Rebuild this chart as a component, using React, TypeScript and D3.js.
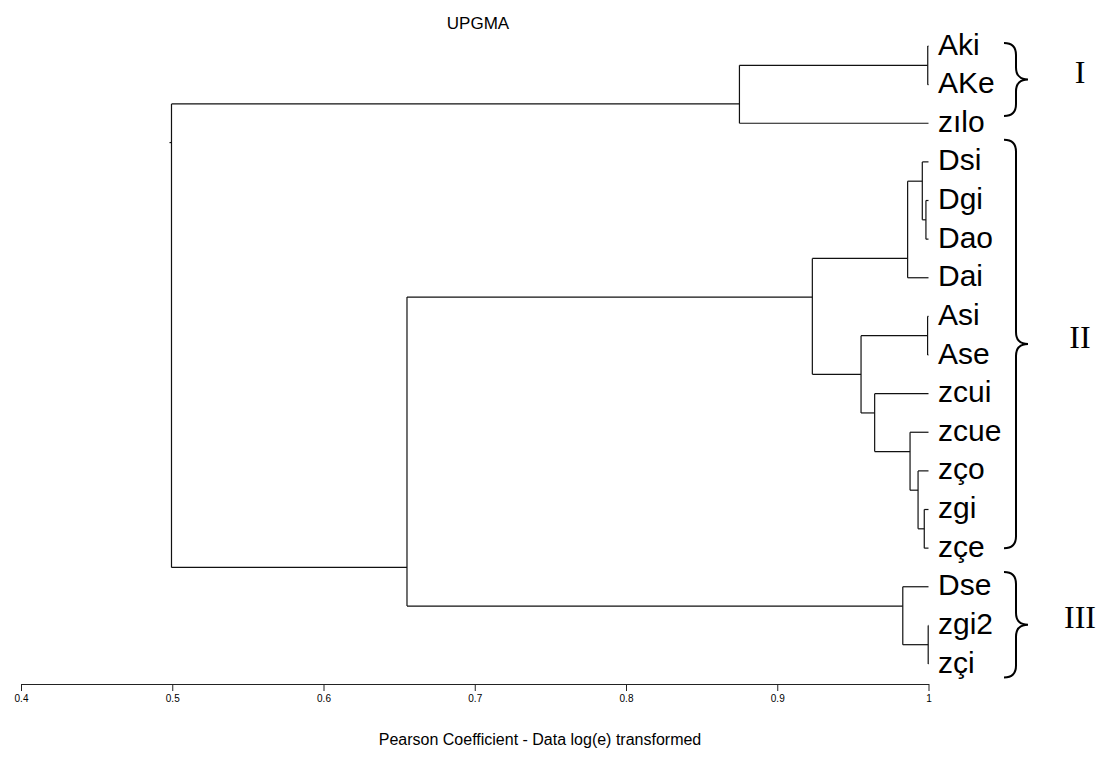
import React, { useEffect, useRef } from "react";
import * as d3 from "d3";

// leaves, top to bottom
const leafNames = ["Aki", "AKe", "zılo", "Dsi", "Dgi", "Dao", "Dai", "Asi", "Ase", "zcui", "zcue", "zço", "zgi", "zçe", "Dse", "zgi2", "zçi"];

// UPGMA merges in order: upper cluster, lower cluster, Pearson coefficient -> node "n<i>"
const mergeA = ["zgi2", "Aki", "Asi", "Dgi", "zgi", "Dsi", "zço", "zcue", "n5", "Dse", "zcui", "n2", "n8", "n1", "n12", "n13"];
const mergeB = ["zçi", "AKe", "Ase", "Dao", "zçe", "n3", "n4", "n6", "Dai", "n0", "n7", "n10", "n11", "zılo", "n9", "n14"];
const mergeLevel = [0.9998, 0.9995, 0.9994, 0.9983, 0.9972, 0.9959, 0.9931, 0.9878, 0.9862, 0.983, 0.9644, 0.9554, 0.9232, 0.875, 0.6552, 0.4995];

const axisTicks = [0.4, 0.5, 0.6, 0.7, 0.8, 0.9, 1];
const axisTickLabels = ["0.4", "0.5", "0.6", "0.7", "0.8", "0.9", "1"];

// bracketed groups (positions in leaf units)
const groupNames = ["I", "II", "III"];
const groupFrom = [-0.08, 2.43, 13.62];
const groupTo = [1.81, 13.0, 16.35];

const W = 1113;
const H = 778;

type Node = { y: number; min: number; max: number; level: number };

function brace(x: number, y0: number, y1: number) {
  const r = 12;
  const w = 24;
  const ym = (y0 + y1) / 2;
  const xv = x + r;
  return [
    `M${x},${y0}`,
    `Q${xv},${y0} ${xv},${y0 + r}`,
    `L${xv},${ym - r}`,
    `Q${xv},${ym} ${x + w},${ym}`,
    `Q${xv},${ym} ${xv},${ym + r}`,
    `L${xv},${y1 - r}`,
    `Q${xv},${y1} ${x},${y1}`,
  ].join(" ");
}

const App = () => {
  const axisRef = useRef<SVGGElement>(null);

  const x = d3.scaleLinear().domain([0.4, 1]).range([21, 928.5]);
  const y = d3.scaleLinear().domain([0, leafNames.length - 1]).range([46, 664]);

  // build the layout of the tree
  const nodes: Record<string, Node> = {};
  leafNames.forEach((n, i) => {
    nodes[n] = { y: i, min: i, max: i, level: 1 };
  });
  const segs: [number, number, number, number][] = [];
  mergeA.forEach((a, i) => {
    const A = nodes[a];
    const B = nodes[mergeB[i]];
    const lv = mergeLevel[i];
    nodes["n" + i] = { y: (A.max + B.min) / 2, min: A.min, max: B.max, level: lv };
    const xn = x(lv);
    segs.push([xn, y(A.y), xn, y(B.y)]);
    segs.push([xn, y(A.y), x(A.level), y(A.y)]);
    segs.push([xn, y(B.y), x(B.level), y(B.y)]);
  });
  const root = nodes["n" + (mergeA.length - 1)];
  segs.push([x(root.level) - 2, y(root.y), x(root.level), y(root.y)]);

  useEffect(() => {
    const g = d3.select(axisRef.current);
    g.selectAll("*").remove();
    g.call(
      d3
        .axisBottom(x)
        .tickValues(axisTicks)
        .tickFormat((d, i) => axisTickLabels[i])
        .tickSizeOuter(0)
        .tickSizeInner(7)
        .tickPadding(4)
    );
    g.select(".domain").attr("stroke", "#222");
    g.selectAll(".tick line").attr("stroke", "#222");
    g.selectAll(".tick text")
      .attr("font-family", "Arial, 'Liberation Sans', sans-serif")
      .attr("font-size", 10)
      .attr("fill", "#000");
  }, []);

  return (
    <svg width={W} height={H} style={{ display: "block", position: "absolute", left: 0, top: 0 }}>
      <rect width={W} height={H} fill="#fff" />
      <text x={478} y={29} textAnchor="middle" fontFamily="Arial, 'Liberation Sans', sans-serif" fontSize={17}>
        UPGMA
      </text>
      <g stroke="#111" strokeWidth={1.2} fill="none">
        {segs.map((s, i) => (
          <line key={i} x1={s[0]} y1={s[1]} x2={s[2]} y2={s[3]} />
        ))}
      </g>
      <g fontFamily="Arial, 'Liberation Sans', sans-serif" fontSize={30}>
        {leafNames.map((n, i) => (
          <text key={n} x={938} y={y(i) + 8.5}>
            {n}
          </text>
        ))}
      </g>
      <g>
        {groupNames.map((g, i) => {
          const y0 = y(groupFrom[i]);
          const y1 = y(groupTo[i]);
          return (
            <g key={g}>
              <path d={brace(1004, y0, y1)} fill="none" stroke="#000" strokeWidth={2} />
              <text
                x={1080}
                y={(y0 + y1) / 2 + 3.6}
                textAnchor="middle"
                fontFamily="'Times New Roman', 'Liberation Serif', serif"
                fontSize={32}
              >
                {g}
              </text>
            </g>
          );
        })}
      </g>
      <g ref={axisRef} transform="translate(0,684)" />
      <text x={540} y={745} textAnchor="middle" fontFamily="Arial, 'Liberation Sans', sans-serif" fontSize={16}>
        Pearson Coefficient - Data log(e) transformed
      </text>
    </svg>
  );
};

export default App;
